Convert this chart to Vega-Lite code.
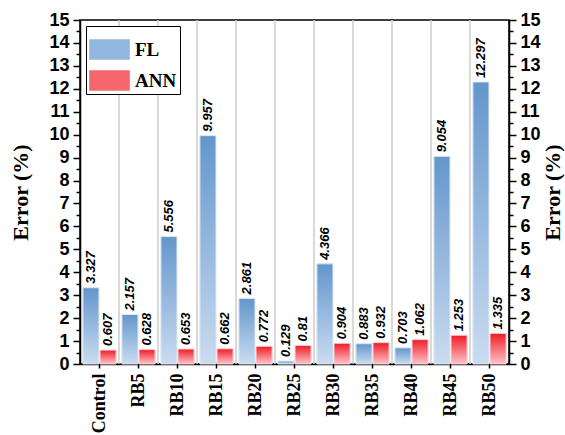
{
  "$schema": "https://vega.github.io/schema/vega-lite/v6.json",
  "autosize": {"type": "none"},
  "width": 429,
  "height": 344,
  "padding": {"left": 80, "top": 20, "right": 56, "bottom": 71},
  "background": "white",
  "config": {
    "view": {"stroke": "black", "strokeWidth": 1.5},
    "axis": {"domainColor": "black", "domainWidth": 1.5, "tickColor": "black", "tickWidth": 1.5, "grid": false, "labelColor": "black", "titleColor": "black"}
  },
  "data": {
    "values": [
      {"cat": "Control", "series": "FL", "value": 3.327},
      {"cat": "Control", "series": "ANN", "value": 0.607},
      {"cat": "RB5", "series": "FL", "value": 2.157},
      {"cat": "RB5", "series": "ANN", "value": 0.628},
      {"cat": "RB10", "series": "FL", "value": 5.556},
      {"cat": "RB10", "series": "ANN", "value": 0.653},
      {"cat": "RB15", "series": "FL", "value": 9.957},
      {"cat": "RB15", "series": "ANN", "value": 0.662},
      {"cat": "RB20", "series": "FL", "value": 2.861},
      {"cat": "RB20", "series": "ANN", "value": 0.772},
      {"cat": "RB25", "series": "FL", "value": 0.129},
      {"cat": "RB25", "series": "ANN", "value": 0.81},
      {"cat": "RB30", "series": "FL", "value": 4.366},
      {"cat": "RB30", "series": "ANN", "value": 0.904},
      {"cat": "RB35", "series": "FL", "value": 0.883},
      {"cat": "RB35", "series": "ANN", "value": 0.932},
      {"cat": "RB40", "series": "FL", "value": 0.703},
      {"cat": "RB40", "series": "ANN", "value": 1.062},
      {"cat": "RB45", "series": "FL", "value": 9.054},
      {"cat": "RB45", "series": "ANN", "value": 1.253},
      {"cat": "RB50", "series": "FL", "value": 12.297},
      {"cat": "RB50", "series": "ANN", "value": 1.335}
    ]
  },
  "resolve": {"axis": {"y": "independent"}},
  "layer": [
    {
      "transform": [{"filter": "datum.series === 'FL' && datum.cat !== 'Control'"}],
      "mark": {"type": "rule", "color": "#cccccc", "strokeWidth": 1.5},
      "encoding": {
        "x": {
          "field": "cat", "type": "nominal", "bandPosition": 0,
          "scale": {"domain": ["Control", "RB5", "RB10", "RB15", "RB20", "RB25", "RB30", "RB35", "RB40", "RB45", "RB50"], "paddingInner": 0, "paddingOuter": 0},
          "axis": {"title": null, "labelAngle": -90, "labelFont": "Liberation Serif", "labelFontWeight": "bold", "labelFontSize": 18, "labelPadding": 5, "tickSize": 4}
        }
      }
    },
    {
      "mark": {"type": "bar"},
      "encoding": {
        "x": {
          "field": "cat", "type": "nominal",
          "scale": {"domain": ["Control", "RB5", "RB10", "RB15", "RB20", "RB25", "RB30", "RB35", "RB40", "RB45", "RB50"], "paddingInner": 0, "paddingOuter": 0},
          "axis": {"title": null, "labelAngle": -90, "labelFont": "Liberation Serif", "labelFontWeight": "bold", "labelFontSize": 18, "labelPadding": 5, "tickSize": 4}
        },
        "xOffset": {"field": "series", "type": "nominal", "scale": {"domain": ["FL", "ANN"], "paddingOuter": 0.17, "paddingInner": 0.06}},
        "y": {"field": "value", "type": "quantitative", "scale": {"domain": [0, 15], "nice": false}, "axis": null},
        "color": {
          "field": "series", "type": "nominal",
          "scale": {"domain": ["FL", "ANN"], "range": ["#93b6df", "#f5666f"]},
          "legend": {
            "orient": "top-left", "offset": 6, "title": null,
            "strokeColor": "black", "fillColor": "white", "padding": 3,
            "symbolType": "M-1,-0.5H1V0.5H-1Z", "symbolSize": 1650, "symbolStrokeWidth": 0,
            "labelFont": "Liberation Serif", "labelFontWeight": "bold", "labelFontSize": 19, "labelColor": "black", "labelOffset": 5, "rowPadding": 0
          }
        }
      }
    },
    {
      "transform": [{"filter": "datum.series === 'FL'"}],
      "mark": {
        "type": "bar",
        "stroke": "#dde8f6",
        "strokeWidth": 1,
        "fill": {"gradient": "linear", "x1": 0, "y1": 0, "x2": 0, "y2": 1, "stops": [{"offset": 0, "color": "#6396cc"}, {"offset": 1, "color": "#cbdcf0"}]}
      },
      "encoding": {
        "x": {
          "field": "cat", "type": "nominal",
          "scale": {"domain": ["Control", "RB5", "RB10", "RB15", "RB20", "RB25", "RB30", "RB35", "RB40", "RB45", "RB50"], "paddingInner": 0, "paddingOuter": 0},
          "axis": {"title": null, "labelAngle": -90, "labelFont": "Liberation Serif", "labelFontWeight": "bold", "labelFontSize": 18, "labelPadding": 5, "tickSize": 4}
        },
        "xOffset": {"field": "series", "type": "nominal", "scale": {"domain": ["FL", "ANN"], "paddingOuter": 0.17, "paddingInner": 0.06}},
        "y": {
          "field": "value", "type": "quantitative",
          "scale": {"domain": [0, 15], "nice": false},
          "axis": {
            "orient": "left",
            "values": [0, 0.5, 1, 1.5, 2, 2.5, 3, 3.5, 4, 4.5, 5, 5.5, 6, 6.5, 7, 7.5, 8, 8.5, 9, 9.5, 10, 10.5, 11, 11.5, 12, 12.5, 13, 13.5, 14, 14.5, 15],
            "format": ".0f",
            "labelExpr": "datum.value % 1 === 0 ? datum.label : ''",
            "tickSize": {"condition": {"test": "datum.value % 1 === 0", "value": 7}, "value": 4},
            "labelFont": "Liberation Sans", "labelFontWeight": "bold", "labelFontSize": 18, "labelPadding": 4,
            "title": "Error (%)", "titleFont": "Liberation Serif", "titleFontWeight": "bold", "titleFontSize": 22, "titlePadding": 16
          }
        }
      }
    },
    {
      "transform": [{"filter": "datum.series === 'ANN'"}],
      "mark": {
        "type": "bar",
        "stroke": "#ffd3d8",
        "strokeWidth": 1,
        "fill": {"gradient": "linear", "x1": 0, "y1": 0, "x2": 0, "y2": 1, "stops": [{"offset": 0, "color": "#ee1c24"}, {"offset": 1, "color": "#ffc3cb"}]}
      },
      "encoding": {
        "x": {
          "field": "cat", "type": "nominal",
          "scale": {"domain": ["Control", "RB5", "RB10", "RB15", "RB20", "RB25", "RB30", "RB35", "RB40", "RB45", "RB50"], "paddingInner": 0, "paddingOuter": 0},
          "axis": {"title": null, "labelAngle": -90, "labelFont": "Liberation Serif", "labelFontWeight": "bold", "labelFontSize": 18, "labelPadding": 5, "tickSize": 4}
        },
        "xOffset": {"field": "series", "type": "nominal", "scale": {"domain": ["FL", "ANN"], "paddingOuter": 0.17, "paddingInner": 0.06}},
        "y": {
          "field": "value", "type": "quantitative",
          "axis": {
            "orient": "right",
            "values": [0, 0.5, 1, 1.5, 2, 2.5, 3, 3.5, 4, 4.5, 5, 5.5, 6, 6.5, 7, 7.5, 8, 8.5, 9, 9.5, 10, 10.5, 11, 11.5, 12, 12.5, 13, 13.5, 14, 14.5, 15],
            "format": ".0f",
            "labelExpr": "datum.value % 1 === 0 ? datum.label : ''",
            "tickSize": {"condition": {"test": "datum.value % 1 === 0", "value": 7}, "value": 4},
            "labelFont": "Liberation Sans", "labelFontWeight": "bold", "labelFontSize": 18, "labelPadding": 4,
            "title": "Error (%)", "titleFont": "Liberation Serif", "titleFontWeight": "bold", "titleFontSize": 22, "titlePadding": 2,
            "titleAngle": 270, "titleBaseline": "top"
          }
        }
      }
    },
    {
      "mark": {"type": "text", "angle": 270, "align": "left", "baseline": "middle", "dx": 4, "font": "Liberation Sans", "fontWeight": "bold", "fontStyle": "italic", "fontSize": 13, "color": "black"},
      "encoding": {
        "x": {
          "field": "cat", "type": "nominal",
          "scale": {"domain": ["Control", "RB5", "RB10", "RB15", "RB20", "RB25", "RB30", "RB35", "RB40", "RB45", "RB50"], "paddingInner": 0, "paddingOuter": 0},
          "axis": {"title": null, "labelAngle": -90, "labelFont": "Liberation Serif", "labelFontWeight": "bold", "labelFontSize": 18, "labelPadding": 5, "tickSize": 4}
        },
        "xOffset": {"field": "series", "type": "nominal", "scale": {"domain": ["FL", "ANN"], "paddingOuter": 0.17, "paddingInner": 0.06}},
        "y": {"field": "value", "type": "quantitative", "axis": null},
        "text": {"field": "value", "type": "quantitative", "format": ""}
      }
    }
  ]
}
